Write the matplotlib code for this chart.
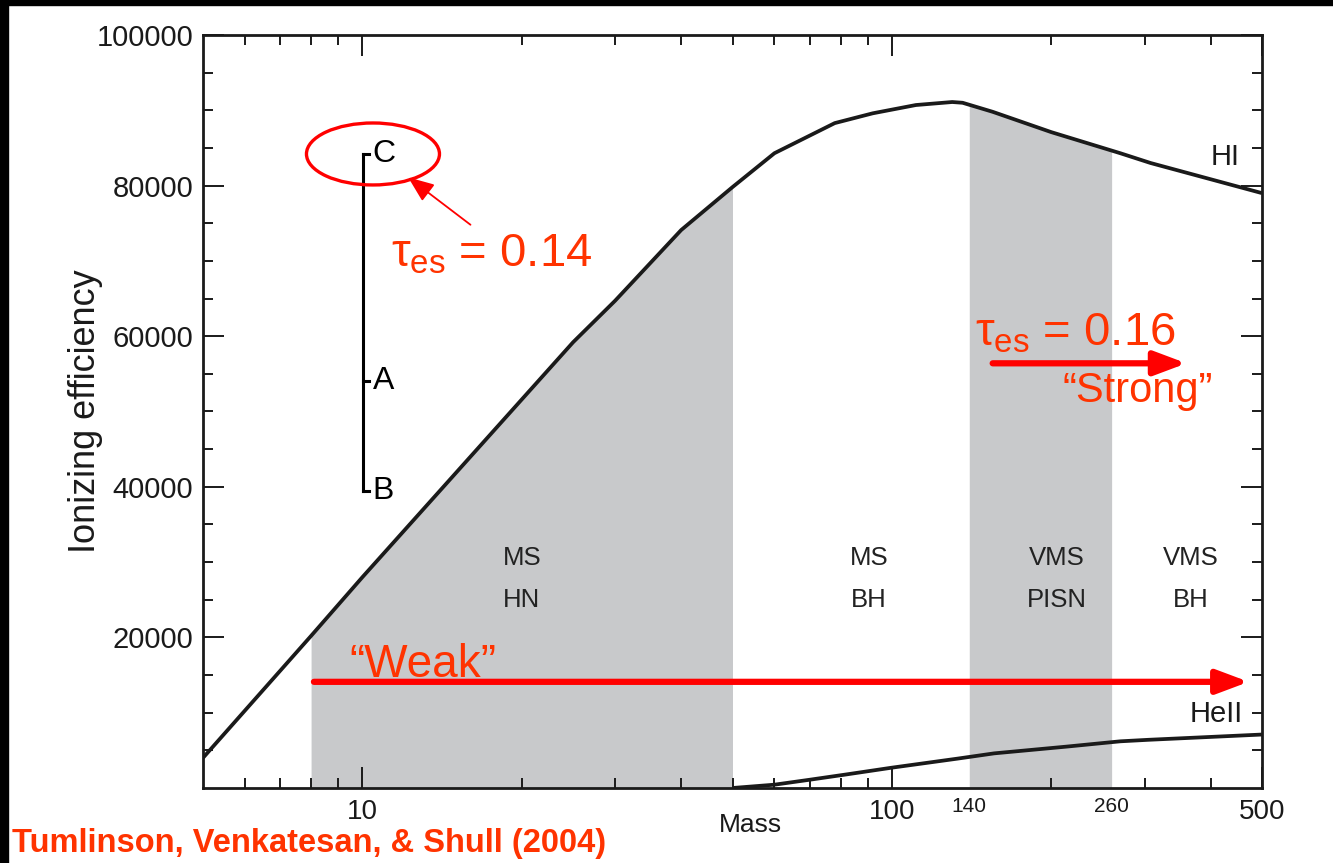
import numpy as np
import matplotlib
matplotlib.use('Agg')
import matplotlib.pyplot as plt
from matplotlib.patches import Ellipse, Rectangle
from matplotlib.ticker import FixedLocator, NullFormatter

plt.rcParams['font.family'] = ['Liberation Sans', 'DejaVu Sans']
plt.rcParams['mathtext.fontset'] = 'custom'
plt.rcParams['mathtext.rm'] = 'Liberation Sans'
plt.rcParams['mathtext.it'] = 'Liberation Sans'

# ionizing efficiency vs stellar mass
mass_hi = np.array([5, 8, 10, 25, 30, 40, 50, 60, 78, 92, 111, 130, 136, 155, 200, 270, 308, 500])
eff_hi = np.array([4000, 20200, 28000, 59200, 64700, 74100, 79800, 84300, 88300, 89600,
                   90700, 91100, 91000, 89800, 87100, 84300, 83000, 79000])
mass_heii = np.array([50, 60, 70, 82, 100, 133, 156, 214, 270, 305, 500])
eff_heii = np.array([0, 440, 1100, 1800, 2700, 3900, 4600, 5500, 6200, 6400, 7100])

# shaded mass ranges (HN and PISN)
bands = [(8, 50), (140, 260)]
band_names = [('MS\nHN', 20), ('MS\nBH', 90.5), ('VMS\nPISN', 205), ('VMS\nBH', 367)]
scenario = {'C': 84200, 'A': 54100, 'B': 39400}
tau_weak = 0.14
tau_strong = 0.16

red = '#ff0000'
orange = '#ff3300'
gray = '#c8c9cb'
ink = '#1a1a1a'

fig = plt.figure(figsize=(13.33, 8.63), dpi=100)
ax = fig.add_axes([203/1333, 75/863, 1059/1333, 753/863])
ax.set_xscale('log')
ax.set_xlim(5, 500)
ax.set_ylim(0, 100000)

lx = np.log10(mass_hi)
for lo, hi in bands:
    inner = mass_hi[(mass_hi > lo) & (mass_hi < hi)]
    mm = np.concatenate([[lo], inner, [hi]])
    yy = np.interp(np.log10(mm), lx, eff_hi)
    ax.fill_between(mm, 0, yy, color=gray, lw=0, zorder=1)

ax.plot(mass_hi, eff_hi, color=ink, lw=2.7, zorder=3, solid_capstyle='butt')
ax.plot(mass_heii, eff_heii, color=ink, lw=2.7, zorder=3, solid_capstyle='butt')
ax.text(425, 83800, 'HI', fontsize=21, ha='center', va='center', color=ink)
ax.text(410, 9800, 'HeII', fontsize=21, ha='center', va='center', color=ink)

for name, xm in band_names:
    top, bot = name.split('\n')
    ax.text(xm, 30600, top, fontsize=18.5, ha='center', va='center', color='#222222')
    ax.text(xm, 25000, bot, fontsize=18.5, ha='center', va='center', color='#222222')

# C / A / B bracket
xb = 10.02
ax.plot([xb, xb], [scenario['B'], scenario['C']], color='black', lw=2.2, zorder=4)
for k, v in scenario.items():
    ax.plot([xb, 10.3], [v, v], color='black', lw=2.2, zorder=4)
    ax.text(10.45, v, k, fontsize=23, ha='left', va='center', color='black')

ell = Ellipse((0.1605, 0.842), 0.1256, 0.0823, transform=ax.transAxes,
              fill=False, edgecolor=red, lw=2.4, zorder=5)
ax.add_patch(ell)
ax.annotate('', xy=(12.2, 81100), xytext=(16.0, 74800),
            arrowprops=dict(arrowstyle='-|>,head_length=1.0,head_width=0.4',
                            color=red, lw=1.3, mutation_scale=16, shrinkA=0, shrinkB=0))
ax.text(11.3, 69300, r'$\tau_{\mathrm{es}}$' + ' = %.2f' % tau_weak, fontsize=34,
        color=orange, ha='left', va='baseline')

# reionization arrows
ax.annotate('', xy=(472, 14100), xytext=(8.1, 14100),
            arrowprops=dict(arrowstyle='-|>,head_length=1.2,head_width=0.45',
                            color=red, lw=4.5, mutation_scale=16, shrinkA=0, shrinkB=0),
            zorder=6)
ax.text(9.45, 14700, '\u201cWeak\u201d', fontsize=33, color=orange, ha='left', va='baseline')

ax.annotate('', xy=(360, 56400), xytext=(155, 56400),
            arrowprops=dict(arrowstyle='-|>,head_length=1.2,head_width=0.45',
                            color=red, lw=4.5, mutation_scale=16, shrinkA=0, shrinkB=0),
            zorder=6)
ax.text(143.7, 58800, r'$\tau_{\mathrm{es}}$' + ' = %.2f' % tau_strong, fontsize=34,
        color=orange, ha='left', va='baseline')
ax.text(210, 51200, '\u201cStrong\u201d', fontsize=30, color=orange, ha='left', va='baseline')

# axes styling
major_x = [10, 100, 500]
minor_x = [6, 7, 8, 9, 20, 30, 40, 50, 60, 70, 80, 90, 200, 300, 400]
ax.xaxis.set_major_locator(FixedLocator(major_x))
ax.xaxis.set_minor_locator(FixedLocator(minor_x))
ax.xaxis.set_minor_formatter(NullFormatter())
ax.set_xticklabels(['10', '100', '500'])
ax.set_yticks([20000, 40000, 60000, 80000, 100000])
ax.yaxis.set_minor_locator(FixedLocator(np.arange(5000, 100000, 5000)))
ax.tick_params(which='both', direction='in', top=True, right=True, width=1.4,
               color=ink, labelcolor=ink, labelsize=20)
ax.tick_params(which='major', length=15, pad=8)
ax.tick_params(which='minor', length=7.5)
ax.tick_params(axis='y', pad=7, labelsize=21)
for s in ax.spines.values():
    s.set_linewidth(2)
    s.set_color(ink)
    s.set_zorder(7)

for v in bands[1]:
    ax.text(v, -0.012, str(v), transform=ax.get_xaxis_transform(), fontsize=15,
            ha='center', va='top', color=ink)
ax.text(0.5165, -0.049, 'Mass', transform=ax.transAxes, fontsize=19,
        ha='center', va='center', color=ink)
ax.set_ylabel('Ionizing efficiency', fontsize=26, color=ink, labelpad=-5)

fig.text(12/1333, 1 - 843/863, 'Tumlinson, Venkatesan, & Shull (2004)',
         family=['Liberation Sans Narrow', 'Liberation Sans'], fontweight='bold',
         fontsize=23.5, color=orange, ha='left', va='center')

# black slide edges
fig.patches.append(Rectangle((0, 1 - 5/863), 1, 5/863, transform=fig.transFigure,
                             color='black', zorder=10))
fig.patches.append(Rectangle((0, 0), 8/1333, 1, transform=fig.transFigure,
                             color='black', zorder=10))

fig.savefig('out.png', dpi=100)
